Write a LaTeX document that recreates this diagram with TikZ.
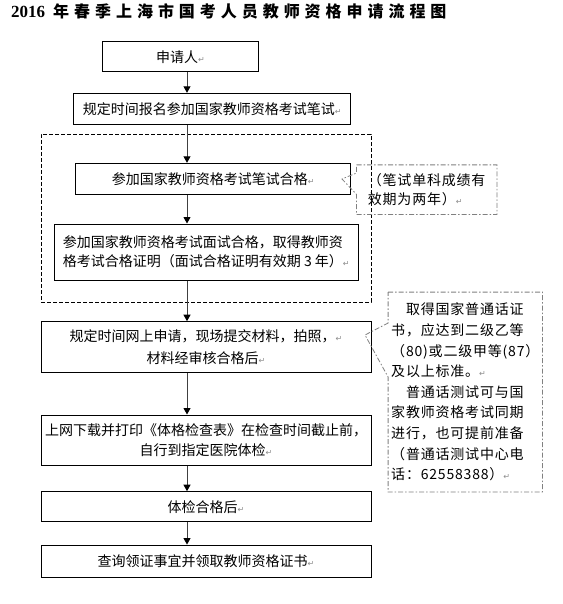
\documentclass[tikz,border=0pt]{standalone}
\usepackage{fontspec}
\setmainfont{Noto Sans CJK SC}
\newfontfamily\notefont{Noto Sans CJK SC}[LetterSpace=5.7]
\newfontfamily\titlefont{Noto Sans CJK SC}[LetterSpace=31]
\newfontfamily\digitfont{Liberation Serif}
\newfontfamily\dejavu{DejaVu Sans}
\usetikzlibrary{arrows.meta,calc}
\newcommand\pmk{{\dejavu\color{black!45}\fontsize{8}{8}\selectfont ↵}}
\tikzset{
  box/.style={draw=black,line width=1pt,fill=white,inner sep=2pt,font=\fontsize{14}{14}\selectfont},
  arr/.style={draw=black!75,line width=1pt,-{Triangle[width=7pt,length=6.5pt,color=black]}},
  notetext/.style={inner sep=0pt,align=left,font=\notefont\fontsize{14}{19.5}\selectfont},
  notedash/.style={draw=black!50,line width=0.8pt,dash pattern=on 5pt off 2pt on 1.5pt off 2pt},
  bigdash/.style={draw=black,line width=0.8pt,dash pattern=on 4pt off 2pt},
}
\begin{document}
\begin{tikzpicture}[x=1pt,y=-1pt]
\fill[white] (0,0) rectangle (562,604);
\useasboundingbox (0,0) rectangle (562,604);

% title
\node[anchor=base west,inner sep=0pt] (title) at (11,18)
  {\titlefont\bfseries\fontsize{16}{16}\selectfont{\digitfont\bfseries\fontsize{17}{17}\selectfont 2016}\hspace{8pt}年春季上海市国考人员教师资格申请流程图};

% dashed group box
\node[bigdash,minimum width=330pt,minimum height=168pt,inner sep=0pt] (grp) at (206,218) {};

% main boxes
\node[box,minimum width=156.4pt,minimum height=30pt] (b1) at (180.5,56.7) {申请人\pmk};
\node[box,minimum width=276.7pt,minimum height=31pt] (b2) at (212.3,108.8) {规定时间报名参加国家教师资格考试笔试\pmk};
\node[box,minimum width=275pt,minimum height=31pt] (b3) at (213.2,178.8) {参加国家教师资格考试笔试合格\pmk};
\node[box,minimum width=304pt,minimum height=56pt,align=left,font=\fontsize{14}{19.4}\selectfont] (b4) at (206.3,252)
  {参加国家教师资格考试面试合格，取得教师资\\格考试合格证明（面试合格证明有效期 3 年）\pmk};
\node[box,minimum width=330pt,minimum height=50.6pt,align=center,font=\fontsize{14}{21.7}\selectfont] (b5) at (206,347)
  {规定时间网上申请，现场提交材料，拍照，\pmk\\材料经审核合格后\pmk};
\node[box,minimum width=330pt,minimum height=50pt,align=center,font=\fontsize{14}{20}\selectfont] (b6) at (206,440)
  {上网下载并打印《体格检查表》在检查时间截止前，\\自行到指定医院体检\pmk};
\node[box,minimum width=330pt,minimum height=30pt] (b7) at (206,506.7) {体检合格后\pmk};
\node[box,minimum width=330pt,minimum height=32.3pt] (b8) at (206,561.2) {查询领证事宜并领取教师资格证书\pmk};

% notes (callouts drawn over the boxes)
\node[notetext,minimum width=140pt,minimum height=49.3pt] (n1) at (426.7,189.7)
  {（笔试单科成绩有\\效期为两年）\pmk};
\coordinate (t1) at (342,179);
\draw[notedash] (n1.north west) -- (n1.north east) -- (n1.south east) -- (n1.south west)
  -- ([yshift=-4.7pt]n1.west) -- (t1) -- ([yshift=16.7pt]n1.west) -- cycle;

\node[notetext,minimum width=154pt,minimum height=199.4pt,font=\notefont\fontsize{14}{20.6}\selectfont] (n2) at (465.3,392)
  {\hspace*{14.8pt}取得国家普通话证\\书，应达到二级乙等\\（80)或二级甲等(87）\\及以上标准。\pmk\\\hspace*{14.8pt}普通话测试可与国\\家教师资格考试同期\\进行，也可提前准备\\（普通话测试中心电\\话：62558388）\pmk};
\coordinate (t2) at (365,335);
\draw[notedash] (n2.north west) -- (n2.north east) -- (n2.south east) -- (n2.south west)
  -- ([yshift=15pt]n2.west) -- (t2) -- ([yshift=69pt]n2.west) -- cycle;

% arrows
\coordinate (ax) at (187,0);
\draw[arr] (b1.south -| ax) -- (b2.north -| ax);
\draw[arr] (b2.south -| ax) -- (b3.north -| ax);
\draw[arr] (b3.south -| ax) -- (b4.north -| ax);
\draw[arr] (b4.south -| ax) -- (b5.north -| ax);
\draw[arr] (b5.south -| ax) -- (b6.north -| ax);
\draw[arr] (b6.south -| ax) -- (b7.north -| ax);
\draw[arr] (b7.south -| ax) -- (b8.north -| ax);
\end{tikzpicture}
\end{document}
